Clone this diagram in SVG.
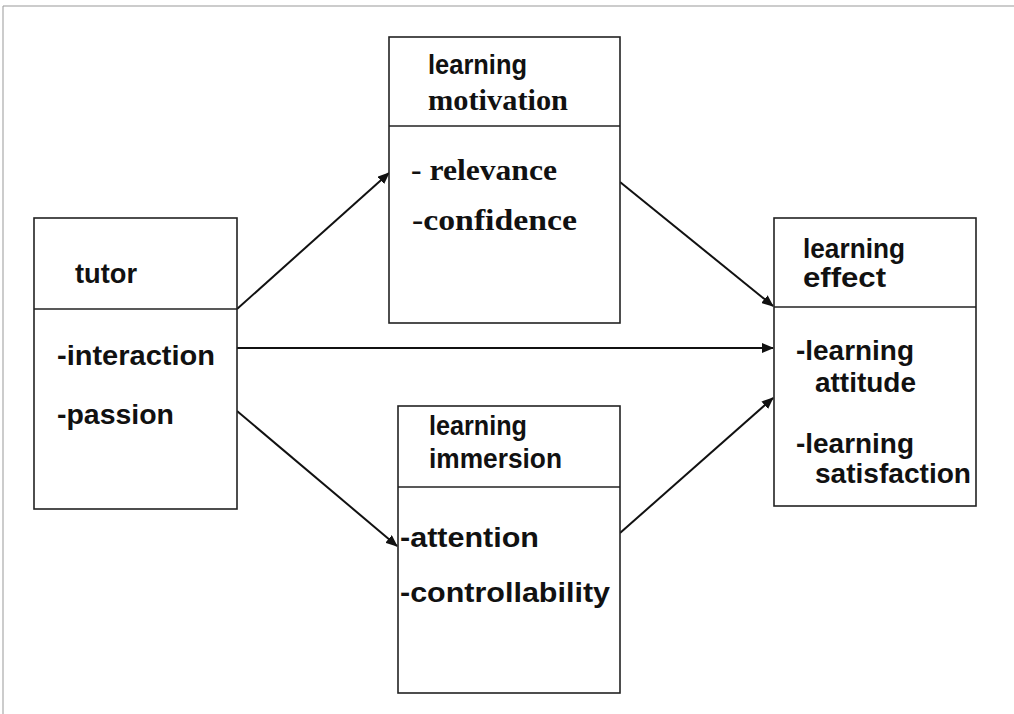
<svg xmlns="http://www.w3.org/2000/svg" width="1014" height="714" viewBox="0 0 1014 714">
<style>
.box{fill:#fff;stroke:#222;stroke-width:1.6}
.div{stroke:#222;stroke-width:1.6}
.frame{stroke:#999;stroke-width:1;fill:none}
.s{font-family:"Liberation Sans",Arial,sans-serif;font-weight:bold;font-size:27px;fill:#111}
.r{font-family:"Liberation Serif","Times New Roman",serif;font-weight:bold;font-size:30px;fill:#111}
.c{stroke:#111;stroke-width:2;fill:none;marker-end:url(#ah)}
</style>
<defs>
<marker id="ah" viewBox="0 0 12 10" refX="11" refY="5" markerWidth="12" markerHeight="10" markerUnits="userSpaceOnUse" orient="auto">
<path d="M0,0 L12,5 L0,10 Z" fill="#111"/>
</marker>
</defs>
<rect width="1014" height="714" fill="#fff"/>
<path class="frame" d="M3,714 V6 H1014"/>
<g id="connectors">
<line class="c" x1="237" y1="309" x2="389" y2="173"/>
<line class="c" x1="237" y1="348" x2="773" y2="348"/>
<line class="c" x1="237" y1="411" x2="397" y2="546"/>
<line class="c" x1="620" y1="182" x2="773" y2="306"/>
<line class="c" x1="620" y1="533" x2="773" y2="398"/>
</g>
<g id="tutor">
<rect class="box" x="34" y="218" width="203" height="291"/>
<line class="div" x1="34" y1="309" x2="237" y2="309"/>
<text class="s" x="75" y="283" textLength="62" lengthAdjust="spacingAndGlyphs">tutor</text>
<text class="s" x="57" y="365" textLength="158" lengthAdjust="spacingAndGlyphs">-interaction</text>
<text class="s" x="57" y="424" textLength="117" lengthAdjust="spacingAndGlyphs">-passion</text>
</g>
<g id="motivation">
<rect class="box" x="389" y="37" width="231" height="286"/>
<line class="div" x1="389" y1="126" x2="620" y2="126"/>
<text class="s" x="428" y="74" textLength="99" lengthAdjust="spacingAndGlyphs">learning</text>
<text class="r" x="428" y="110" textLength="140" lengthAdjust="spacingAndGlyphs">motivation</text>
<text class="r" x="411" y="180" textLength="146" lengthAdjust="spacingAndGlyphs">- relevance</text>
<text class="r" x="412" y="230" textLength="165" lengthAdjust="spacingAndGlyphs">-confidence</text>
</g>
<g id="immersion">
<rect class="box" x="398" y="406" width="222" height="287"/>
<line class="div" x1="398" y1="487" x2="620" y2="487"/>
<text class="s" x="429" y="435" textLength="98" lengthAdjust="spacingAndGlyphs">learning</text>
<text class="s" x="429" y="468" textLength="133" lengthAdjust="spacingAndGlyphs">immersion</text>
<text class="s" x="400" y="547" textLength="139" lengthAdjust="spacingAndGlyphs">-attention</text>
<text class="s" x="400" y="602" textLength="210" lengthAdjust="spacingAndGlyphs">-controllability</text>
</g>
<g id="effect">
<rect class="box" x="774" y="218" width="202" height="288"/>
<line class="div" x1="774" y1="307" x2="976" y2="307"/>
<text class="s" x="803" y="258" textLength="102" lengthAdjust="spacingAndGlyphs">learning</text>
<text class="s" x="803" y="287" textLength="83" lengthAdjust="spacingAndGlyphs">effect</text>
<text class="s" x="796" y="360" textLength="118" lengthAdjust="spacingAndGlyphs">-learning</text>
<text class="s" x="815" y="392" textLength="101" lengthAdjust="spacingAndGlyphs">attitude</text>
<text class="s" x="796" y="453" textLength="118" lengthAdjust="spacingAndGlyphs">-learning</text>
<text class="s" x="815" y="483" textLength="156" lengthAdjust="spacingAndGlyphs">satisfaction</text>
</g>
</svg>
